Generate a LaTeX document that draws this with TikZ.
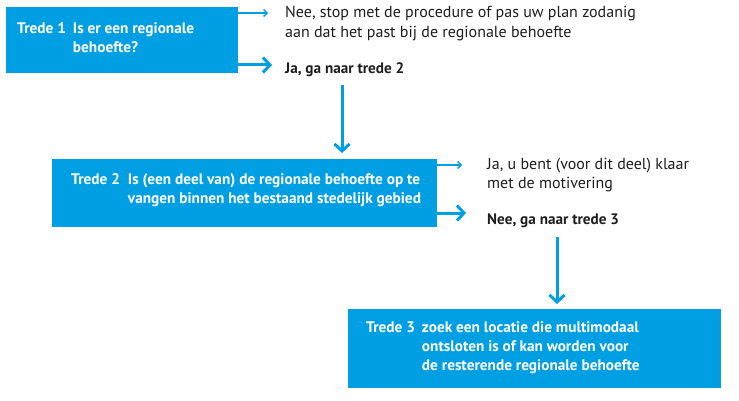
\documentclass[tikz,border=0pt]{standalone}
\usepackage{fontspec}
\setmainfont{PT Sans}
\usetikzlibrary{arrows.meta}
\definecolor{rblue}{RGB}{0,159,227}
\definecolor{rtext}{RGB}{30,30,30}
\newcommand{\tredetab}[3]{\begin{tabular}[t]{@{}l@{\hspace{#1}}l@{}}#2 & #3\end{tabular}}
\tikzset{
  x=1pt, y=-1pt,
  bluebox/.style={fill=rblue, draw=none, minimum width=#1, inner sep=0pt, anchor=north west},
  boxtxt/.style={text=white, font=\fontsize{15.3}{19}\selectfont\bfseries, inner sep=0pt, anchor=base west},
  outtxt/.style={text=rtext, font=\fontsize{16}{19.5}\selectfont, inner sep=0pt, anchor=base west, align=left},
  outbold/.style={outtxt, font=\fontsize{15.2}{19.5}\selectfont\bfseries},
  thinarr/.style={draw=rblue, line width=1.4pt, -{Straight Barb[length=3.5pt,width=7pt]}},
  thickarr/.style={draw=rblue, line width=3pt, -{Straight Barb[length=7pt,width=15pt]}},
}
\begin{document}
\begin{tikzpicture}
\useasboundingbox (0,0) rectangle (739,401);
% boxes
\node[bluebox=232pt, minimum height=66pt] (box1) at (6,7) {};
\node[bluebox=385pt, minimum height=68pt] (box2) at (52,159) {};
\node[bluebox=373pt, minimum height=79pt] (box3) at (348,309) {};
% box texts
\node[boxtxt] (q1) at (17,34) {\tredetab{7pt}{Trede 1}{Is er een regionale\\ & behoefte?}};
\node[boxtxt] (q2) at (71,184) {\tredetab{8pt}{Trede 2}{Is (een deel van) de regionale behoefte op te\\ & vangen binnen het bestaand stedelijk gebied}};
\node[boxtxt] (q3) at (366,332) {\tredetab{7pt}{Trede 3}{zoek een locatie die multimodaal\\ & ontsloten is of kan worden voor\\ & de resterende regionale behoefte}};
% outcome texts
\node[outtxt] (nee1) at (285,18) {\begin{tabular}[t]{@{}l@{}}Nee, stop met de procedure of pas uw plan zodanig\\aan dat het past bij de regionale behoefte\end{tabular}};
\node[outbold] (ja1) at (285,74) {Ja, ga naar trede 2};
\node[outtxt] (ja2) at (487,169) {\begin{tabular}[t]{@{}l@{}}Ja, u bent (voor dit deel) klaar\\met de motivering\end{tabular}};
\node[outbold] (nee2) at (487,224) {Nee, ga naar trede 3};
% connector ends
\coordinate (e1) at (268,13);
\coordinate (e2) at (272,65);
\coordinate (v1s) at (342,85);
\coordinate (e3) at (462,165);
\coordinate (e4) at (466,213);
\coordinate (v2s) at (557,237);
% connectors
\draw[thinarr] (box1.east |- e1) -- (e1);
\draw[thickarr] (box1.east |- e2) -- (e2);
\draw[thickarr] (v1s) -- ([yshift=6pt]v1s |- box2.north);
\draw[thinarr] (box2.east |- e3) -- (e3);
\draw[thickarr] (box2.east |- e4) -- (e4);
\draw[thickarr] (v2s) -- ([yshift=5pt]v2s |- box3.north);
\end{tikzpicture}
\end{document}
